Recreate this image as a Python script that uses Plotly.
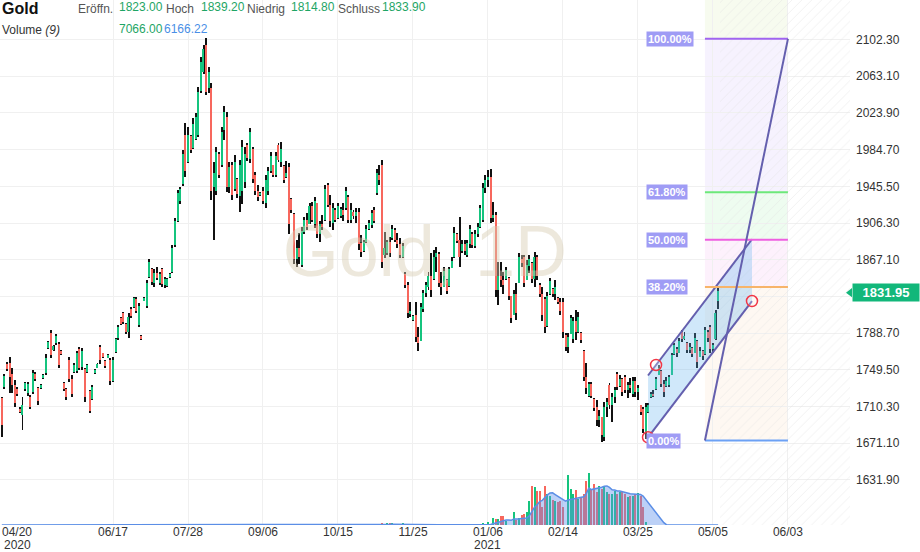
import pandas as pd
import plotly.graph_objects as go

# daily candles (bar index 0 = 04/20/2020)
opens = [1719, 1731, 1756, 1757, 1745, 1733, 1729, 1708, 1701, 1729,
         1725, 1721, 1726, 1745, 1730, 1730, 1741, 1746, 1773, 1789,
         1771, 1778, 1777, 1770, 1735, 1729, 1760, 1740, 1747, 1748,
         1772, 1753, 1750, 1747, 1727, 1718, 1746, 1752, 1774, 1767,
         1759, 1762, 1760, 1738, 1769, 1783, 1805, 1810, 1798, 1790,
         1815, 1817, 1825, 1797, 1786, 1824, 1818, 1849, 1857, 1842,
         1853, 1842, 1857, 1840, 1839, 1849, 1854, 1883, 1909, 1930,
         1948, 2000, 1972, 1999, 1986, 1996, 2000, 2047, 2068, 2096,
         2050, 2050, 1945, 1940, 1980, 1968, 2006, 2020, 1945, 1968,
         1943, 1953, 1935, 1940, 1950, 1990, 1975, 1985, 1958, 1940,
         1937, 1940, 1928, 1940, 1962, 1968, 1958, 1990, 1972, 1967,
         1955, 1966, 1932, 1916, 1868, 1880, 1862, 1897, 1910, 1905,
         1925, 1905, 1928, 1895, 1905, 1910, 1947, 1926, 1906, 1920,
         1912, 1914, 1920, 1922, 1934, 1910, 1918, 1914, 1918, 1885,
         1876, 1886, 1900, 1904, 1920, 1938, 1958, 1968, 1872, 1874,
         1886, 1890, 1899, 1888, 1884, 1870, 1852, 1840, 1810, 1803,
         1808, 1785, 1780, 1815, 1832, 1838, 1850, 1846, 1870, 1873,
         1842, 1838, 1845, 1839, 1858, 1870, 1895, 1888, 1876, 1884,
         1872, 1884, 1895, 1882, 1895, 1902, 1910, 1944, 1952, 1956,
         1912, 1915, 1835, 1850, 1845, 1846, 1848, 1828, 1808, 1830,
         1842, 1868, 1870, 1845, 1860, 1864, 1846, 1870, 1840, 1830,
         1825, 1796, 1830, 1836, 1830, 1826, 1822, 1822, 1787, 1774,
         1788, 1782, 1802, 1790, 1789, 1770, 1742, 1722, 1734, 1718,
         1710, 1696, 1699, 1678, 1710, 1733, 1712, 1720, 1745, 1732,
         1740, 1742, 1728, 1733, 1724, 1738, 1726, 1712, 1708, 1683,
         1705, 1720, 1724, 1729, 1744, 1748, 1734, 1732, 1733, 1744,
         1766, 1772, 1768, 1790, 1782, 1778, 1771, 1773, 1768, 1780,
         1763, 1770, 1766, 1790, 1795, 1772, 1782, 1823.0]
highs = [1721, 1745, 1758, 1763, 1751, 1739, 1731, 1710, 1721, 1736,
         1737, 1723, 1749, 1747, 1731, 1734, 1745, 1766, 1780, 1792,
         1776, 1788, 1779, 1771, 1736, 1730, 1763, 1744, 1757, 1770,
         1774, 1773, 1752, 1756, 1728, 1733, 1750, 1757, 1776, 1768,
         1760, 1766, 1762, 1763, 1784, 1797, 1806, 1811, 1800, 1810,
         1817, 1827, 1827, 1821, 1787, 1827, 1845, 1868, 1858, 1857,
         1859, 1854, 1858, 1849, 1848, 1853, 1883, 1912, 1942, 1945,
         1984, 2013, 2009, 2000, 2018, 2024, 2052, 2084, 2096, 2104,
         2073, 2056, 1971, 1987, 1982, 2009, 2031, 2025, 1971, 1971,
         1979, 1954, 1974, 1995, 1987, 1992, 2008, 1987, 1961, 1947,
         1939, 1945, 1958, 1966, 1982, 1968, 1982, 1992, 1993, 1968,
         1973, 1970, 1933, 1917, 1888, 1896, 1902, 1913, 1917, 1928,
         1929, 1934, 1928, 1909, 1915, 1947, 1949, 1936, 1928, 1922,
         1928, 1923, 1928, 1945, 1936, 1928, 1920, 1922, 1922, 1893,
         1888, 1904, 1910, 1920, 1923, 1964, 1968, 1974, 1897, 1888,
         1891, 1904, 1901, 1896, 1890, 1885, 1854, 1843, 1822, 1808,
         1822, 1795, 1821, 1835, 1843, 1854, 1874, 1877, 1881, 1875,
         1854, 1859, 1846, 1859, 1870, 1902, 1896, 1913, 1888, 1888,
         1888, 1904, 1897, 1899, 1906, 1926, 1949, 1958, 1963, 1964,
         1929, 1918, 1865, 1865, 1854, 1859, 1849, 1828, 1835, 1842,
         1874, 1872, 1872, 1867, 1872, 1865, 1875, 1872, 1842, 1838,
         1827, 1833, 1848, 1837, 1845, 1827, 1826, 1826, 1789, 1789,
         1808, 1806, 1813, 1811, 1790, 1771, 1757, 1736, 1737, 1719,
         1717, 1707, 1699, 1715, 1719, 1735, 1725, 1731, 1747, 1744,
         1741, 1744, 1737, 1741, 1742, 1742, 1733, 1712, 1710, 1714,
         1714, 1726, 1728, 1742, 1755, 1749, 1739, 1742, 1744, 1767,
         1778, 1774, 1784, 1792, 1790, 1779, 1778, 1774, 1789, 1781,
         1774, 1771, 1795, 1792, 1797, 1778, 1813, 1839.2]
lows = [1678, 1729, 1748, 1725, 1725, 1710, 1722, 1703, 1685, 1727,
        1722, 1708, 1724, 1738, 1712, 1729, 1740, 1744, 1772, 1762,
        1770, 1776, 1751, 1765, 1727, 1717, 1736, 1720, 1746, 1746,
        1749, 1749, 1715, 1746, 1703, 1717, 1745, 1751, 1756, 1762,
        1752, 1762, 1733, 1736, 1768, 1781, 1797, 1799, 1788, 1783,
        1805, 1816, 1810, 1795, 1781, 1823, 1816, 1848, 1840, 1838,
        1845, 1840, 1838, 1837, 1838, 1848, 1853, 1881, 1907, 1927,
        1946, 1955, 1970, 1981, 1985, 1995, 1998, 2045, 2066, 2043,
        2045, 1931, 1888, 1936, 1954, 1966, 1995, 1939, 1938, 1931,
        1941, 1933, 1918, 1927, 1944, 1973, 1970, 1949, 1936, 1930,
        1935, 1927, 1922, 1936, 1960, 1955, 1955, 1971, 1966, 1949,
        1954, 1895, 1917, 1863, 1859, 1863, 1859, 1895, 1899, 1905,
        1907, 1901, 1890, 1886, 1899, 1909, 1923, 1902, 1899, 1907,
        1911, 1912, 1909, 1920, 1906, 1906, 1911, 1906, 1877, 1870,
        1875, 1885, 1899, 1901, 1906, 1936, 1947, 1858, 1869, 1872,
        1870, 1888, 1886, 1880, 1869, 1869, 1837, 1805, 1806, 1802,
        1779, 1770, 1780, 1811, 1827, 1835, 1827, 1845, 1854, 1838,
        1829, 1838, 1831, 1838, 1858, 1869, 1885, 1859, 1874, 1872,
        1870, 1880, 1880, 1880, 1891, 1901, 1907, 1938, 1945, 1906,
        1907, 1827, 1819, 1838, 1831, 1845, 1824, 1800, 1808, 1803,
        1842, 1859, 1838, 1845, 1853, 1842, 1838, 1845, 1827, 1802,
        1789, 1795, 1829, 1827, 1824, 1820, 1808, 1784, 1770, 1767,
        1788, 1778, 1781, 1789, 1778, 1738, 1724, 1720, 1719, 1706,
        1690, 1688, 1672, 1674, 1699, 1708, 1694, 1714, 1728, 1731,
        1722, 1725, 1719, 1725, 1720, 1720, 1717, 1701, 1682, 1676,
        1703, 1719, 1720, 1728, 1744, 1731, 1720, 1731, 1731, 1744,
        1765, 1763, 1767, 1779, 1781, 1768, 1767, 1763, 1768, 1752,
        1763, 1760, 1765, 1779, 1767, 1768, 1781, 1814.8]
closes = [1691, 1743, 1750, 1742, 1733, 1714, 1724, 1705, 1712, 1735,
          1734, 1710, 1746, 1740, 1716, 1733, 1744, 1762, 1779, 1765,
          1775, 1786, 1755, 1766, 1729, 1720, 1740, 1724, 1755, 1767,
          1752, 1770, 1720, 1755, 1706, 1731, 1749, 1756, 1760, 1763,
          1754, 1765, 1738, 1760, 1782, 1795, 1799, 1801, 1790, 1806,
          1807, 1826, 1812, 1818, 1782, 1826, 1842, 1865, 1843, 1853,
          1848, 1852, 1841, 1846, 1846, 1852, 1880, 1908, 1938, 1943,
          1980, 1962, 2000, 1984, 2012, 2020, 2046, 2078, 2092, 2046,
          2068, 1940, 1960, 1982, 1958, 2004, 2025, 1945, 1966, 1936,
          1972, 1937, 1968, 1988, 1980, 1976, 2003, 1953, 1940, 1934,
          1938, 1930, 1952, 1962, 1978, 1958, 1978, 1974, 1985, 1952,
          1960, 1905, 1920, 1868, 1880, 1870, 1898, 1910, 1902, 1925,
          1910, 1930, 1895, 1905, 1902, 1943, 1926, 1908, 1922, 1910,
          1925, 1921, 1915, 1940, 1910, 1920, 1914, 1918, 1884, 1875,
          1886, 1900, 1906, 1917, 1909, 1960, 1952, 1865, 1880, 1886,
          1874, 1900, 1888, 1884, 1872, 1882, 1840, 1810, 1812, 1807,
          1785, 1778, 1817, 1832, 1840, 1850, 1835, 1870, 1874, 1842,
          1838, 1855, 1834, 1857, 1866, 1896, 1887, 1870, 1884, 1876,
          1885, 1900, 1883, 1895, 1902, 1922, 1944, 1952, 1956, 1912,
          1915, 1835, 1850, 1845, 1840, 1856, 1828, 1805, 1830, 1810,
          1870, 1864, 1842, 1862, 1868, 1846, 1870, 1850, 1830, 1808,
          1795, 1828, 1844, 1830, 1838, 1822, 1812, 1790, 1774, 1785,
          1805, 1802, 1790, 1806, 1781, 1742, 1730, 1734, 1722, 1709,
          1696, 1700, 1680, 1710, 1715, 1712, 1720, 1728, 1731, 1740,
          1726, 1728, 1733, 1730, 1738, 1726, 1730, 1705, 1686, 1710,
          1712, 1724, 1722, 1740, 1752, 1734, 1726, 1738, 1742, 1765,
          1776, 1768, 1780, 1782, 1786, 1771, 1774, 1766, 1784, 1758,
          1770, 1764, 1792, 1784, 1772, 1776, 1810, 1833.9]

# volume only exists from bar 145 on
vol_first_bar = 145
volume = [120, 0, 200, 0, 350, 400, 300, 0, 150, 0,
          200, 0, 0, 150, 0, 0, 100, 0, 0, 150,
          0, 0, 120] + [0] * 18 + [
          315, 0, 504, 0, 1323, 1134, 1134, 1764, 1764, 819,
          0, 0, 2394, 945, 1323, 1953, 2079, 2394, 4599, 7434,
          7245, 6489, 6363, 3465, 7434, 5859, 5544, 4800, 4599, 4284,
          4599, 3339, 0, 9513, 6804, 5859, 6615, 4914, 5229, 5859,
          8379, 9765, 6804, 7749, 6174, 7434, 6804, 7119, 6174, 5859,
          5859, 6489, 5859, 6174, 6174, 5859, 5229, 5544, 5544, 5859,
          5985, 5544, 3465, 504] + [0] * 28

tick_idx = [43, 72, 101, 130, 159, 188, 217, 246, 275, 304]
tick_text = ['06/17', '07/28', '09/06', '10/15', '11/25', '01/06',
             '02/14', '03/25', '05/05', '06/03']
year_idx = [0, 188]
year_text = ['2020', '2021']
price_ticks = [1631.90, 1671.10, 1710.30, 1749.50, 1788.70, 1827.90, 1867.10,
               1906.30, 1945.50, 1984.70, 2023.90, 2063.10, 2102.30]
last_price = 1831.95

# drawings: parallel channel anchors (bar index, price) and fibonacci box
chan_x = [249.9, 290.1, 253.0]
chan_y = [1677.5, 1823.0, 1754.7]
fib_x = [271.9, 304.0]
fib_lo, fib_hi = 1674.0, 2103.0
fib_levels = [0.0, 0.382, 0.5, 0.618, 1.0]
fib_names = ['0.00%', '38.20%', '50.00%', '61.80%', '100.00%']
fib_colors = ['#6ca1f5', '#f7b46a', '#ee5fe0', '#6de87a', '#a064f0']
fib_fills = ['rgba(247,178,106,0.09)', 'rgba(238,95,224,0.09)',
             'rgba(102,226,122,0.11)', 'rgba(156,110,246,0.09)']

up_col = '#15c47e'
dn_col = '#f7675d'
x_min, x_max = -0.7, 328.0
y_min, y_max = 1583.8, 2144.5

n = len(closes)
idx = list(range(n))
body_base = [min(o, c) for o, c in zip(opens, closes)]
body_h = [max(abs(c - o), 0.9) for o, c in zip(opens, closes)]
colors = [up_col if c >= o else dn_col for o, c in zip(opens, closes)]

vol_full = [0] * vol_first_bar + volume
vol_ma = pd.Series(vol_full).rolling(9, min_periods=1).mean()

fig = go.Figure()

# watermark, drawn first so the candles sit on top
fig.add_trace(go.Scatter(x=[163.6], y=[1869], mode='text', text=['Gold, 1D'],
                         textfont=dict(size=72, color='rgba(214,205,178,0.45)',
                                       family='Liberation Sans, Arial'),
                         hoverinfo='skip'))

# hatched future area
fut0 = n - 0.3
fig.add_trace(go.Bar(x=[(fut0 + x_max) / 2], y=[y_max - y_min], base=[y_min],
                     width=[x_max - fut0],
                     marker=dict(color='rgba(0,0,0,0)', line=dict(width=0),
                                 pattern=dict(shape='/', fgcolor='#e0e0e0',
                                              bgcolor='rgba(0,0,0,0)', size=7, solidity=0.12)),
                     hoverinfo='skip'))

# volume bars + 9 MA
fig.add_trace(go.Bar(x=idx, y=vol_full, yaxis='y2', width=0.4,
                     marker=dict(color=colors, line=dict(width=0)), hoverinfo='skip'))
fig.add_trace(go.Scatter(x=idx, y=vol_ma, yaxis='y2', mode='lines',
                         line=dict(color='#5b8ee6', width=1.5),
                         fill='tozeroy', fillcolor='rgba(96,145,235,0.42)', hoverinfo='skip'))

# candles: black wick, coloured body
fig.add_trace(go.Bar(x=idx, y=[h - l for h, l in zip(highs, lows)], base=lows, width=0.38,
                     marker=dict(color='#111111', line=dict(width=0)), hoverinfo='skip'))
fig.add_trace(go.Bar(x=idx, y=body_h, base=body_base, width=0.42,
                     marker=dict(color=colors, line=dict(width=0)), hoverinfo='skip'))

shapes = []
rng = fib_hi - fib_lo
# band above 100%
shapes.append(dict(type='rect', xref='x', yref='y', x0=fib_x[0], x1=fib_x[1],
                   y0=fib_hi, y1=y_max, fillcolor='rgba(190,225,120,0.12)',
                   line=dict(width=0), layer='below'))
for i, fc in enumerate(fib_fills):
    shapes.append(dict(type='rect', xref='x', yref='y', x0=fib_x[0], x1=fib_x[1],
                       y0=fib_lo + rng * fib_levels[i], y1=fib_lo + rng * fib_levels[i + 1],
                       fillcolor=fc, line=dict(width=0), layer='below'))
for lv, col in zip(fib_levels, fib_colors):
    yv = fib_lo + rng * lv
    shapes.append(dict(type='line', xref='x', yref='y', x0=fib_x[0], x1=fib_x[1],
                       y0=yv, y1=yv, line=dict(color=col, width=2)))
shapes.append(dict(type='line', xref='x', yref='y', x0=fib_x[0], x1=fib_x[1],
                   y0=fib_lo, y1=fib_hi, line=dict(color='#645fae', width=2)))

# parallel channel
slope = (chan_y[1] - chan_y[0]) / (chan_x[1] - chan_x[0])
off = chan_y[2] - (chan_y[0] + slope * (chan_x[2] - chan_x[0]))
lo_l, lo_r = chan_y[0], chan_y[1]
up_l, up_r = chan_y[0] + off, chan_y[1] + off
fig.add_trace(go.Scatter(x=[chan_x[0], chan_x[1], chan_x[1], chan_x[0], chan_x[0]],
                         y=[lo_l, lo_r, up_r, up_l, lo_l], mode='lines', fill='toself',
                         fillcolor='rgba(100,180,240,0.3)', line=dict(width=0), hoverinfo='skip'))
for y0, y1 in [(lo_l, lo_r), (up_l, up_r)]:
    fig.add_trace(go.Scatter(x=[chan_x[0], chan_x[1]], y=[y0, y1], mode='lines',
                             line=dict(color='#645fae', width=2), hoverinfo='skip'))

annotations = []
for lv, name in zip(fib_levels, fib_names):
    annotations.append(dict(x=fib_x[0], y=fib_lo + rng * lv, xref='x', yref='y',
                            text='<b>%s</b>' % name, showarrow=False, xanchor='left',
                            xshift=-59, font=dict(color='white', size=11),
                            bgcolor='#9f9cf5', borderpad=1))

fig.add_trace(go.Scatter(x=chan_x, y=chan_y, mode='markers',
                         marker=dict(symbol='circle', size=11, color='rgba(255,255,255,0.25)',
                                     line=dict(color='#f23645', width=1.5)), hoverinfo='skip'))

# last price tag
fig.add_trace(go.Scatter(x=[x_max], y=[last_price], mode='markers', cliponaxis=False,
                         marker=dict(symbol='triangle-left', size=8, color='#12b77a'),
                         hoverinfo='skip'))
annotations.append(dict(x=1, xref='paper', y=last_price, yref='y', xanchor='left', xshift=2,
                        text='<b>1831.95</b>', showarrow=False, bgcolor='#12b77a',
                        font=dict(color='white', size=13), width=64, height=15, borderpad=1))


def header(px, py, text, color='#333', size=12):
    annotations.append(dict(x=px / 850, y=1 - py / 525, xref='paper', yref='paper',
                            xanchor='left', yanchor='middle', text=text, showarrow=False,
                            font=dict(color=color, size=size)))


green_txt = '#1ea565'
header(0, 9, '<b>Gold</b>', '#111', 16)
header(76, 9, 'Eröffn.', '#555')
header(117, 7, '1823.00', green_txt)
header(164, 9, 'Hoch', '#555')
header(199, 7, '1839.20', green_txt)
header(245, 9, 'Niedrig', '#555')
header(289, 7, '1814.80', green_txt)
header(336, 9, 'Schluss', '#555')
header(380, 7, '1833.90', green_txt)
header(0, 30, 'Volume <i>(9)</i>', '#333')
header(117, 29, '7066.00', green_txt)
header(162, 29, '6166.22', '#4a8fe6')

# first date label sits flush left, years go on a second row
annotations.append(dict(x=0, y=0, xref='paper', yref='paper', xanchor='left', yanchor='middle',
                        yshift=-7, text='04/20', showarrow=False, font=dict(color='#333', size=12)))
for xi, yt in zip(year_idx, year_text):
    annotations.append(dict(x=xi, y=0, xref='x', yref='paper', yanchor='middle', yshift=-20,
                            xanchor='left' if xi == 0 else 'center', text=yt, showarrow=False,
                            font=dict(color='#333', size=12)))

fig.update_layout(
    width=920, height=552,
    margin=dict(l=0, r=70, t=0, b=27, autoexpand=False),
    plot_bgcolor='white', paper_bgcolor='white',
    barmode='overlay', bargap=0, showlegend=False,
    font=dict(family='Liberation Sans, Arial, sans-serif', size=12, color='#333'),
    xaxis=dict(range=[x_min, x_max], tickvals=tick_idx, ticktext=tick_text,
               showgrid=True, gridcolor='#f0f0f0', zeroline=False, showline=False,
               ticks='', ticklabelstandoff=-2, tickfont=dict(size=12, color='#333')),
    yaxis=dict(side='right', range=[y_min, y_max], tickvals=price_ticks,
               ticktext=['' if v == 1827.90 else '%.2f' % v for v in price_ticks],
               gridcolor='#f0f0f0', zeroline=False, showline=False, ticks='',
               ticklabelstandoff=5, tickfont=dict(size=12, color='#333')),
    yaxis2=dict(overlaying='y', range=[0, 99225], visible=False),
    shapes=shapes,
    annotations=annotations,
)

# page body margin would shift the 920x552 figure inside the window
fig.write_html('out.html', config={'displayModeBar': False},
               post_script="document.body.style.margin='0';")
